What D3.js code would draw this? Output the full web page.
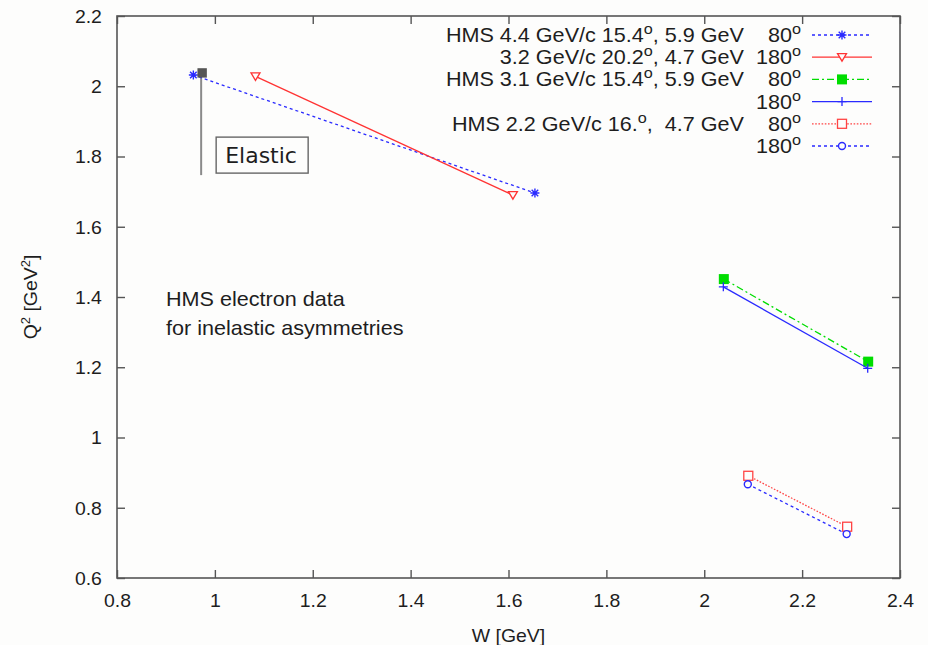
<!DOCTYPE html>
<html><head><meta charset="utf-8">
<script src="https://cdn.jsdelivr.net/npm/d3@7"></script>
<style>
html,body{margin:0;padding:0;background:#fdfdfc;}
svg{display:block;}
text{font-family:"Liberation Sans",Arial,Helvetica,sans-serif;fill:#1e1e1e;}
</style></head><body>
<svg id="chart" width="928" height="645"></svg>
<script>
// Axis ticks
const xTicks = [0.8, 1, 1.2, 1.4, 1.6, 1.8, 2, 2.2, 2.4];
const yTicks = [0.6, 0.8, 1, 1.2, 1.4, 1.6, 1.8, 2, 2.2];

// Legend text: kinematics column and target angle column ("^o" = superscript o)
const kinLabels = [
  "HMS 4.4 GeV/c 15.4^o, 5.9 GeV",
  "3.2 GeV/c 20.2^o, 4.7 GeV",
  "HMS 3.1 GeV/c 15.4^o, 5.9 GeV",
  "",
  "HMS 2.2 GeV/c 16.^o,  4.7 GeV",
  ""
];
const angleLabels = ["80^o", "180^o", "80^o", "180^o", "80^o", "180^o"];

// Kinematic settings: W [GeV] and Q^2 [GeV^2], two points per setting
const wValues = [
  [0.956, 1.654],
  [1.083, 1.609],
  [2.040, 2.335],
  [2.039, 2.334],
  [2.090, 2.292],
  [2.089, 2.291]
];
const q2Values = [
  [2.032, 1.696],
  [2.028, 1.690],
  [1.451, 1.216],
  [1.429, 1.197],
  [0.891, 0.746],
  [0.867, 0.725]
];

// Elastic point and its label
const elasticW = 0.974, elasticQ2 = 2.038, elasticLeaderEnd = 1.747;
const elasticText = "Elastic";
const noteLines = ["HMS electron data", "for inelastic asymmetries"];

// Styles per setting
const colors = ["#2a2aff", "#ff3333", "#00dd00", "#2a2aff", "#ff4444", "#2a2aff"];
const dashes = ["3,3", null, "7,3,2,3", null, "1.6,1.6", "3,3"];
const markers = ["asterisk", "triDown", "squareFill", "plus", "squareOpen", "circle"];

const svg = d3.select("#chart");
const W = 928, H = 645;
const m = {left: 117, right: 28, top: 16, bottom: 67};
const x = d3.scaleLinear([0.8, 2.4], [m.left, W - m.right]);
const y = d3.scaleLinear([0.6, 2.2], [H - m.bottom, m.top]);
const SX = 1.08; // horizontal stretch of the lettering
const frameColor = "#555";

svg.append("rect").attr("width", W).attr("height", H).attr("fill", "#fdfdfc");

// Ticks on all four sides, pointing inward
function styleAxis(g) {
  g.select(".domain").remove();
  g.selectAll(".tick line").attr("stroke", frameColor).attr("stroke-width", 1.4);
}
const gB = svg.append("g").attr("transform", `translate(0,${y.range()[0]})`)
  .call(d3.axisBottom(x).tickValues(xTicks).tickSizeInner(-8).tickSizeOuter(0).tickFormat(d3.format("")))
  .call(styleAxis);
gB.selectAll(".tick text").attr("y", 29).attr("dy", null)
  .attr("font-size", 18).attr("fill", "#1e1e1e").attr("transform", `scale(${SX},1)`)
  .style("font-family", '"Liberation Sans",Arial,sans-serif');
const gL = svg.append("g").attr("transform", `translate(${x.range()[0]},0)`)
  .call(d3.axisLeft(y).tickValues(yTicks).tickSizeInner(-8).tickSizeOuter(0).tickFormat(d3.format("")))
  .call(styleAxis);
gL.selectAll(".tick text").attr("x", -14).attr("dy", "0.36em")
  .attr("font-size", 18).attr("fill", "#1e1e1e").attr("transform", `scale(${SX},1)`)
  .style("font-family", '"Liberation Sans",Arial,sans-serif');
svg.append("g").attr("transform", `translate(0,${y.range()[1]})`)
  .call(d3.axisTop(x).tickValues(xTicks).tickSizeInner(-8).tickSizeOuter(0).tickFormat(""))
  .call(styleAxis);
svg.append("g").attr("transform", `translate(${x.range()[1]},0)`)
  .call(d3.axisRight(y).tickValues(yTicks).tickSizeInner(-8).tickSizeOuter(0).tickFormat(""))
  .call(styleAxis);

// Frame
svg.append("rect")
  .attr("x", x.range()[0]).attr("y", y.range()[1])
  .attr("width", x.range()[1] - x.range()[0]).attr("height", y.range()[0] - y.range()[1])
  .attr("fill", "none").attr("stroke", frameColor).attr("stroke-width", 1.6);

// Axis titles
const yt = svg.append("text")
  .attr("transform", `translate(37,${(y.range()[0] + y.range()[1]) / 2}) rotate(-90) scale(${SX},1)`)
  .attr("text-anchor", "middle").attr("font-size", 18);
yt.append("tspan").text("Q");
yt.append("tspan").attr("dy", -7).attr("font-size", 12).text("2");
yt.append("tspan").attr("dy", 7).text(" [GeV");
yt.append("tspan").attr("dy", -7).attr("font-size", 12).text("2");
yt.append("tspan").attr("dy", 7).text("]");

svg.append("text")
  .attr("transform", `translate(${(x.range()[0] + x.range()[1]) / 2},642) scale(${SX},1)`)
  .attr("text-anchor", "middle").attr("font-size", 18).text("W [GeV]");

// Marker shapes
function drawMarker(g, type, color) {
  switch (type) {
    case "asterisk":
      g.append("path").attr("d", "M-4.5,0H4.5M0,-4.5V4.5M-3.3,-3.3L3.3,3.3M-3.3,3.3L3.3,-3.3")
        .attr("stroke", color).attr("stroke-width", 1.4).attr("fill", "none");
      break;
    case "triDown":
      g.append("path").attr("d", "M-4.5,-3.5L4.5,-3.5L0,4Z")
        .attr("stroke", color).attr("stroke-width", 1.3).attr("fill", "#fdfdfc");
      break;
    case "squareFill":
      g.append("rect").attr("x", -5).attr("y", -5).attr("width", 10).attr("height", 10).attr("fill", color);
      break;
    case "plus":
      g.append("path").attr("d", "M-4.5,0H4.5M0,-4.5V4.5")
        .attr("stroke", color).attr("stroke-width", 1.3).attr("fill", "none");
      break;
    case "squareOpen":
      g.append("rect").attr("x", -4.5).attr("y", -4.5).attr("width", 9).attr("height", 9)
        .attr("stroke", color).attr("stroke-width", 1.3).attr("fill", "#fdfdfc");
      break;
    case "circle":
      g.append("circle").attr("r", 3.5)
        .attr("stroke", color).attr("stroke-width", 1.4).attr("fill", "#fdfdfc");
      break;
  }
}

// Elastic leader and point
svg.append("line")
  .attr("x1", x(elasticW) - 1).attr("x2", x(elasticW) - 1)
  .attr("y1", y(elasticQ2)).attr("y2", y(elasticLeaderEnd))
  .attr("stroke", "#8a8a8a").attr("stroke-width", 2);

// Settings: lines and points
const line = d3.line().x(d => x(d[0])).y(d => y(d[1]));
wValues.forEach((ws, i) => {
  const pts = ws.map((w, j) => [w, q2Values[i][j]]);
  svg.append("path").attr("d", line(pts))
    .attr("fill", "none").attr("stroke", colors[i]).attr("stroke-width", 1.3)
    .attr("stroke-dasharray", dashes[i]);
  pts.forEach(p => {
    const g = svg.append("g").attr("transform", `translate(${x(p[0])},${y(p[1])})`);
    drawMarker(g, markers[i], colors[i]);
  });
});

svg.append("rect")
  .attr("x", x(elasticW) - 4.7).attr("y", y(elasticQ2) - 4.7)
  .attr("width", 9.4).attr("height", 9.4).attr("fill", "#555");

// Elastic label box
const ebx = x(elasticW) + 14, eby = y(elasticLeaderEnd) - 38;
svg.append("rect").attr("x", ebx).attr("y", eby).attr("width", 92).attr("height", 36)
  .attr("fill", "#fdfdfc").attr("stroke", "#666").attr("stroke-width", 1.4);
svg.append("text").attr("x", ebx + 9).attr("y", eby + 26)
  .style("font-family", '"DejaVu Sans",sans-serif').attr("font-size", 22).attr("fill", "#111")
  .text(elasticText);

// Note text
noteLines.forEach((t, i) => {
  svg.append("text")
    .attr("transform", `translate(166,${306 + i * 29}) scale(${SX},1)`)
    .attr("font-size", 20).text(t);
});

// Rich text with superscript "o"
function richText(sel, str) {
  const parts = str.split("^o");
  let raised = false;
  parts.forEach((p, k) => {
    if (p) {
      sel.append("tspan").attr("dy", raised ? 8 : null).text(p);
      raised = false;
    }
    if (k < parts.length - 1) {
      sel.append("tspan").attr("dy", -8).attr("font-size", 15).text("o");
      raised = true;
    }
  });
}

// Legend
const legY0 = 35, legStep = 22.2;
kinLabels.forEach((lab, i) => {
  const cy = legY0 + i * legStep;
  if (lab) {
    const t = svg.append("text")
      .attr("transform", `translate(744,${cy + 7}) scale(${SX},1)`)
      .attr("text-anchor", "end").attr("font-size", 20).style("white-space", "pre");
    richText(t, lab);
  }
  const a = svg.append("text")
    .attr("transform", `translate(801,${cy + 7}) scale(${SX},1)`)
    .attr("text-anchor", "end").attr("font-size", 20);
  richText(a, angleLabels[i]);
  svg.append("line").attr("x1", 812).attr("x2", 872).attr("y1", cy).attr("y2", cy)
    .attr("stroke", colors[i]).attr("stroke-width", 1.3).attr("stroke-dasharray", dashes[i]);
  const g = svg.append("g").attr("transform", `translate(842,${cy})`);
  drawMarker(g, markers[i], colors[i]);
});
</script>
</body></html>
